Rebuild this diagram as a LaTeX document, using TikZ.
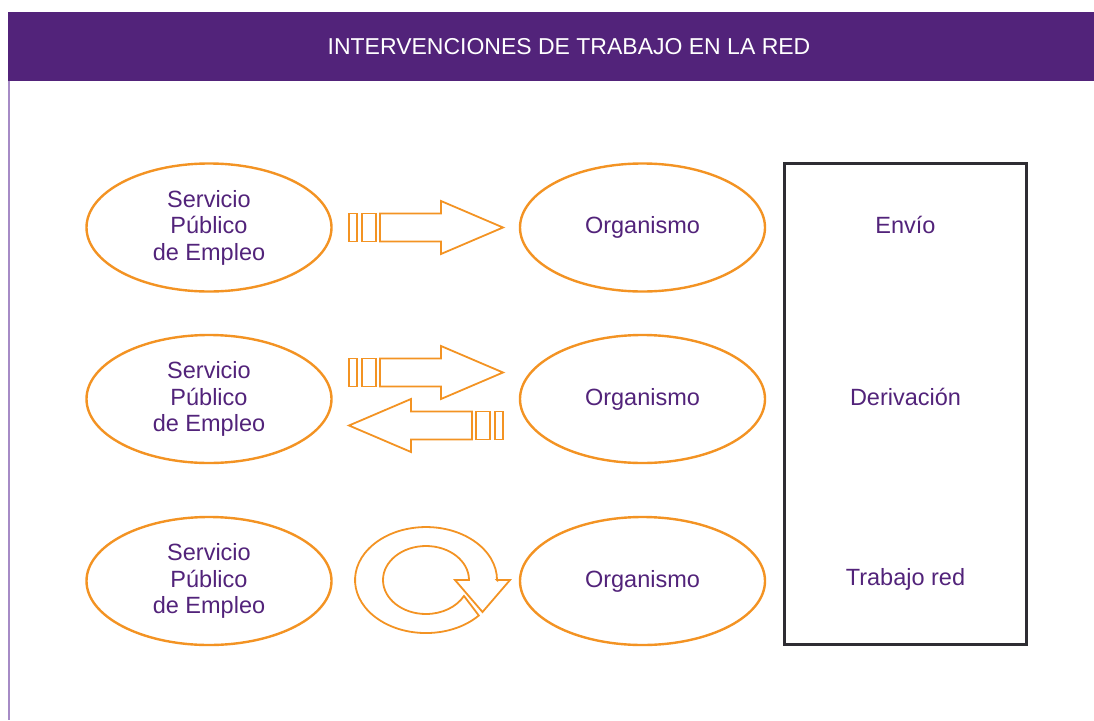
\documentclass[tikz,border=0pt]{standalone}
\usepackage{fontspec}
\setmainfont{Liberation Sans}
\usepackage{tikz}
\usetikzlibrary{shapes.geometric}
\definecolor{morado}{HTML}{52237A}
\definecolor{naranja}{HTML}{F39323}
\definecolor{lila}{HTML}{A68BC6}
\definecolor{marco}{HTML}{2E2D33}

\tikzset{
  elipse/.style={ellipse,draw=naranja,line width=2.4pt,minimum width=245pt,minimum height=128pt,inner sep=0pt,align=center,text=morado,font=\fontsize{23.5}{26.5}\selectfont},
  flecha/.style={draw=naranja,line width=1.8pt,line join=miter},
  texto/.style={text=morado,font=\fontsize{23.5}{26.5}\selectfont},
  bloque/.pic={
    \draw[flecha] (0,-14) rectangle (8,14);
    \draw[flecha] (13,-14) rectangle (27,14);
    \draw[flecha] (31,-14) -- (92,-14) -- (92,-26.5) -- (154,0) -- (92,26.5) -- (92,14) -- (31,14) -- cycle;
  }
}

\begin{document}
\begin{tikzpicture}[line cap=butt,line join=miter,x=1pt,y=-1pt]
        \useasboundingbox (0,0) rectangle (1094,720);
        \fill [morado] (8,12) rectangle (1094,81);
        \draw [lila,line width=1.5pt] (9,81) -- (9,720);
        \node [text=white,font=\fontsize{23}{26}\selectfont] (titulo) at (569,47) {INTERVENCIONES DE TRABAJO EN LA RED};
        \node [elipse] (spe1) at (209,227.5) {Servicio\\Público\\de Empleo};
        \node [elipse] (spe2) at (209,399) {Servicio\\Público\\de Empleo};
        \node [elipse] (spe3) at (209,581) {Servicio\\Público\\de Empleo};
        \node [elipse] (org1) at (642.5,227.5) {Organismo};
        \node [elipse] (org2) at (642.5,399) {Organismo};
        \node [elipse] (org3) at (642.5,581) {Organismo};
        \node [draw=marco,line width=2.6pt,minimum width=242pt,minimum height=481pt] (cuadro) at (905.5,404) {};
        \node [texto] (envio) at (905.5,225) {Envío};
        \node [texto] (deriv) at (905.5,397) {Derivación};
        \node [texto] (tred) at (905.5,579) {Trabajo red};
        \pic at (349,227.5) {bloque};
        \pic at (349,372.5) {bloque};
        \pic [xscale=-1] at (503,425.5) {bloque};
        \draw [flecha] (497,580) -- (510,580) -- (482.5,612) -- (455,580) -- (469,580)
            arc [start angle=0,end angle=-332,x radius=43,y radius=34]
            -- (478.8,615.5)
            arc [start angle=-318,end angle=0,x radius=71,y radius=53] -- cycle;
    \end{tikzpicture}
\end{document}
